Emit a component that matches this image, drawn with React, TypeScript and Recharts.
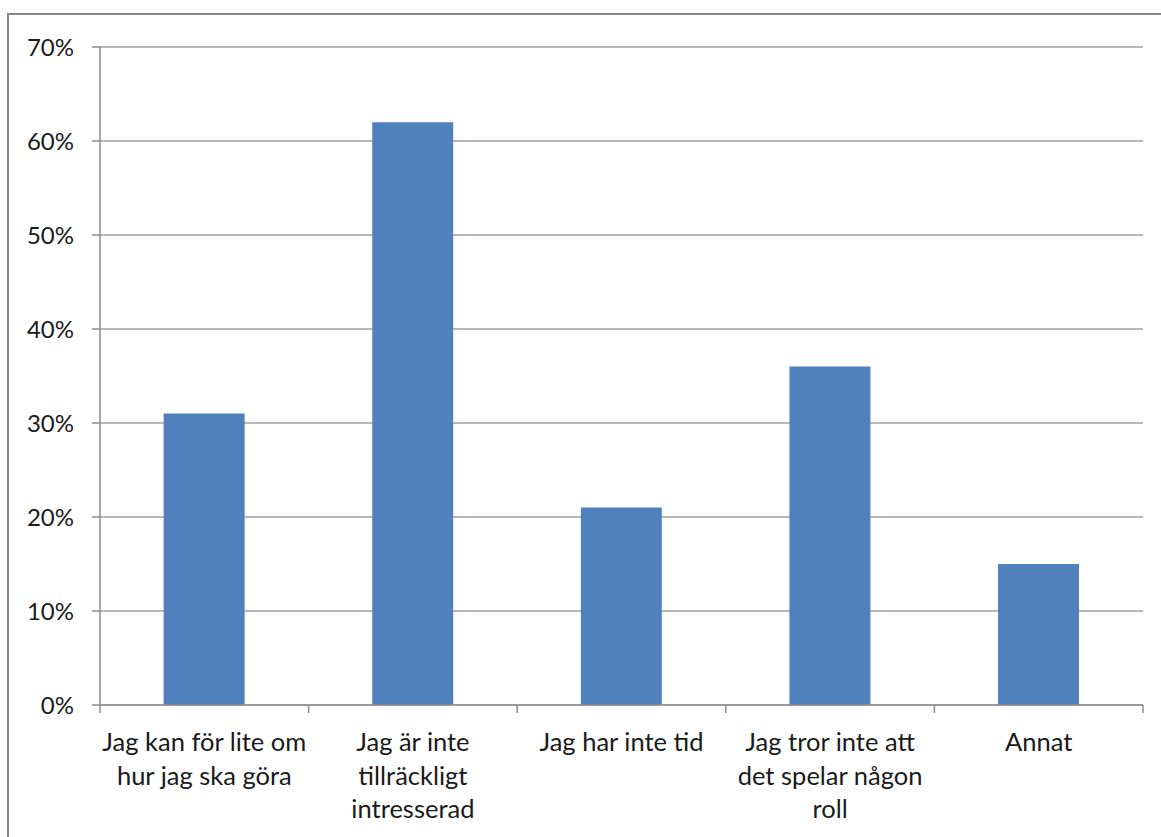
import { BarChart, Bar, XAxis, YAxis, CartesianGrid } from 'recharts'

const categories = [
  ['Jag kan för lite om', 'hur jag ska göra'],
  ['Jag är inte', 'tillräckligt', 'intresserad'],
  ['Jag har inte tid'],
  ['Jag tror inte att', 'det spelar någon', 'roll'],
  ['Annat'],
]
const values = [31, 62, 21, 36, 15]
const yTicks = [0, 10, 20, 30, 40, 50, 60, 70]

const data = categories.map((lines, i) => ({ name: lines.join(' '), lines, value: values[i] }))

const W = 1161
const H = 837
const M = { top: 47, right: 18, bottom: 12, left: 0 }
const Y_W = 100
const PLOT_W = W - M.left - M.right - Y_W
const BAND = PLOT_W / categories.length
const FONT = 'Lato, "Open Sans", sans-serif'
const AXIS = '#8e8e8e'

function CatTick(props: any) {
  const { x, y, index } = props
  const lines: string[] = data[index]?.lines ?? []
  const left = x - BAND / 2
  const right = x + BAND / 2
  return (
    <g>
      <line x1={left} y1={y - 8} x2={left} y2={y} stroke={AXIS} strokeWidth={1.5} />
      {index === categories.length - 1 && (
        <line x1={right} y1={y - 8} x2={right} y2={y} stroke={AXIS} strokeWidth={1.5} />
      )}
      <text x={x} y={y + 38} textAnchor="middle" fill="#1a1a1a" fontSize={25.5} fontFamily={FONT}>
        {lines.map((l, i) => (
          <tspan key={i} x={x} dy={i === 0 ? 0 : 33.5}>{l}</tspan>
        ))}
      </text>
    </g>
  )
}

export default function App() {
  return (
    <div style={{ position: 'absolute', left: 0, top: 0, width: W, height: H, background: '#fff' }}>
      <div style={{
        position: 'absolute', left: 7, top: 13, right: 0, bottom: 0,
        borderLeft: '2px solid #888', borderTop: '2px solid #888',
      }} />
      <div style={{ position: 'absolute', left: 0, top: 0 }}>
        <BarChart width={W} height={H} data={data} margin={M} barCategoryGap="30.5%">
          <CartesianGrid vertical={false} stroke="#a0a0a0" strokeWidth={1.5} />
          <XAxis
            dataKey="name"
            interval={0}
            height={120}
            tickLine={false}
            tick={<CatTick />}
            axisLine={{ stroke: AXIS, strokeWidth: 1.5 }}
          />
          <YAxis
            width={Y_W}
            domain={[0, 70]}
            ticks={yTicks}
            interval={0}
            tickFormatter={(v: number) => `${v}%`}
            tick={{ fill: '#1a1a1a', fontSize: 24, fontFamily: FONT }}
            tickSize={8}
            tickMargin={18}
            tickLine={{ stroke: AXIS, strokeWidth: 1.5 }}
            axisLine={{ stroke: AXIS, strokeWidth: 1.5 }}
          />
          <Bar dataKey="value" fill="#4F81BD" isAnimationActive={false} />
        </BarChart>
      </div>
    </div>
  )
}
